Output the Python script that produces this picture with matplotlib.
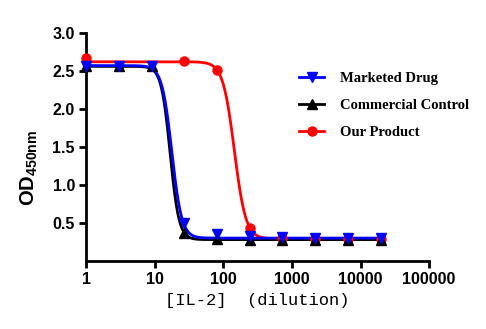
import numpy as np
import matplotlib
matplotlib.use("Agg")
import matplotlib.pyplot as plt

plt.rcParams["mathtext.fontset"] = "custom"
plt.rcParams["mathtext.bf"] = "Liberation Sans:bold"
plt.rcParams["mathtext.rm"] = "Liberation Sans"

# Data (3-fold serial dilution)
dilution = [1, 3, 9, 27, 81, 243, 729, 2187, 6561, 19683]
marketed = [2.57, 2.57, 2.57, 0.50, 0.36, 0.33, 0.31, 0.30, 0.30, 0.30]
commercial = [2.56, 2.56, 2.56, 0.37, 0.29, 0.28, 0.28, 0.28, 0.28, 0.28]
ours_dilution = [1, 27, 81, 243, 729, 2187, 6561, 19683]
ours = [2.67, 2.63, 2.51, 0.43, 0.30, 0.29, 0.29, 0.29]

# 4PL fit parameters: top, bottom, EC50, Hill
fit_marketed = (2.57, 0.30, 17.8, 6.0)
fit_commercial = (2.56, 0.28, 16.8, 6.7)
fit_ours = (2.62, 0.29, 145.0, 5.2)

xticks = [1, 10, 100, 1000, 10000, 100000]
xticklabels = ["1", "10", "100", "1000", "10000", "100000"]
yticks = [0.5, 1.0, 1.5, 2.0, 2.5, 3.0]


def fourpl(x, p):
    top, bottom, ec50, h = p
    return bottom + (top - bottom) / (1 + (x / ec50) ** h)


fig = plt.figure(figsize=(4.86, 3.29), dpi=100)
ax = fig.add_axes([0.177, 0.207, 0.706, 0.693])

xs = np.logspace(0, np.log10(dilution[-1]), 400)
series = [
    ("Our Product", ours_dilution, ours, fit_ours, "#ff0000", "o"),
    ("Commercial Control", dilution, commercial, fit_commercial, "#000000", "^"),
    ("Marketed Drug", dilution, marketed, fit_marketed, "#0000ff", "v"),
]
handles = {}
for name, xd, ys, p, c, m in series:
    ax.plot(xs, fourpl(xs, p), color=c, lw=2, zorder=2)
    ax.plot(xd, ys, linestyle="none", marker=m, color=c, ms=6.5, zorder=3, clip_on=False)
    h, = ax.plot([], [], color=c, lw=2, marker=m, ms=6.5)
    handles[name] = h

ax.set_xscale("log")
ax.set_xlim(1, 100000)
ax.set_ylim(0, 3.0)
ax.set_xticks(xticks)
ax.set_xticklabels(xticklabels)
ax.xaxis.set_minor_locator(matplotlib.ticker.NullLocator())
ax.set_yticks(yticks)
ax.set_yticklabels([f"{v:.1f}" for v in yticks])

for s in ["top", "right"]:
    ax.spines[s].set_visible(False)
for s in ["left", "bottom"]:
    ax.spines[s].set_linewidth(2)
ax.tick_params(axis="both", direction="out", length=5, width=2, pad=3)
for lab in ax.get_xticklabels() + ax.get_yticklabels():
    lab.set_fontfamily("Liberation Sans")
    lab.set_fontweight("bold")
    lab.set_fontsize(11.5)

ax.set_ylabel(r"OD$_{\mathbf{450nm}}$", fontfamily="Liberation Sans", fontweight="bold", fontsize=14.5)
ax.yaxis.set_label_coords(-0.135, 0.41)
ax.set_xlabel("[IL-2]  (dilution)", family=["Liberation Mono", "Noto Sans CJK SC"], fontsize=12.3, labelpad=4)

order = ["Marketed Drug", "Commercial Control", "Our Product"]
leg = fig.legend([handles[n] for n in order], order, loc="upper left",
                 bbox_to_anchor=(286 / 486, 1 - 59 / 329), frameon=False,
                 prop={"family": "Liberation Serif", "weight": "bold", "size": 10.5},
                 handlelength=1.7, labelspacing=0.95, handletextpad=1.1)

fig.savefig("out.png", dpi=100)
